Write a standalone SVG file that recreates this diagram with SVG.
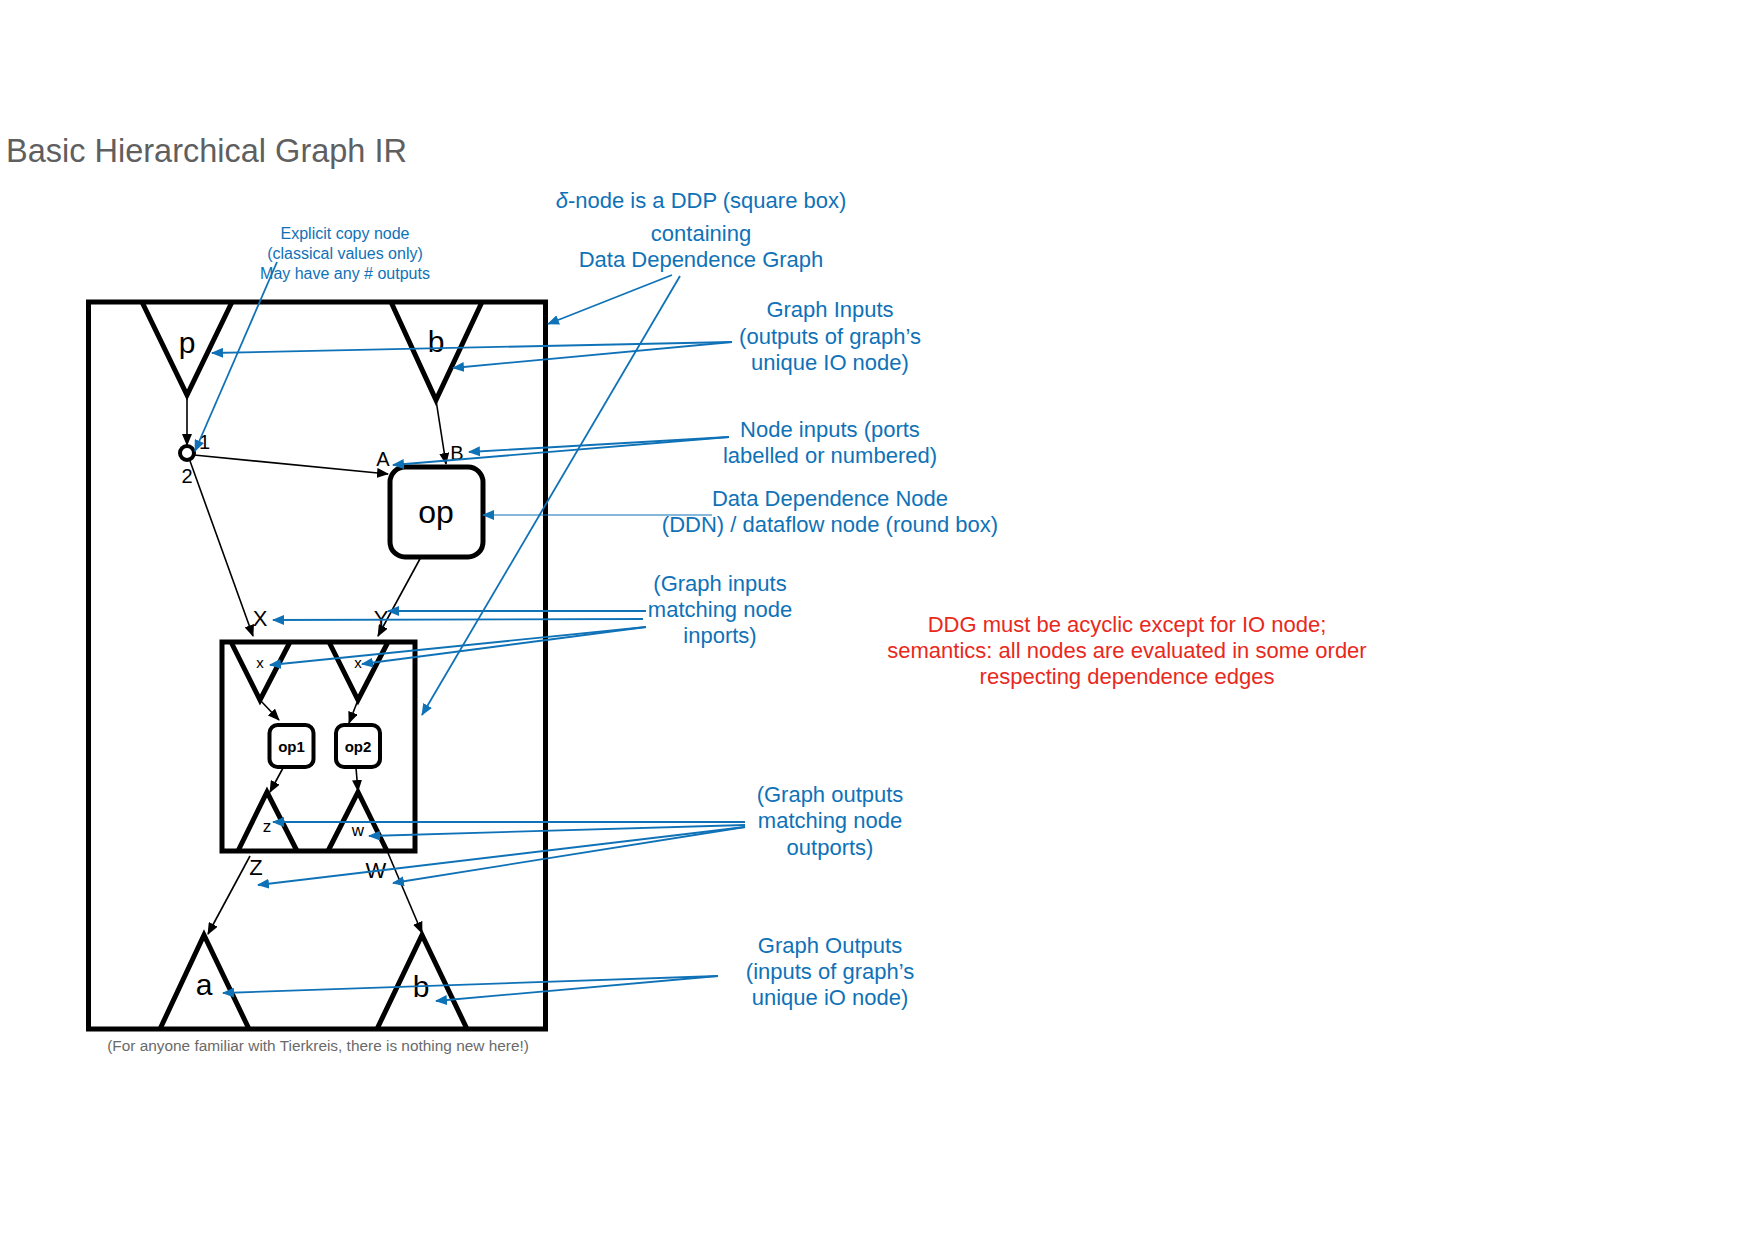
<svg xmlns="http://www.w3.org/2000/svg" width="1754" height="1241" viewBox="0 0 1754 1241">
<style>
text{font-family:"Liberation Sans",Arial,Helvetica,sans-serif}
.t{fill:none;stroke:#000;stroke-width:5;stroke-linejoin:miter}
.bx{fill:#fff;stroke:#000;stroke-width:5}
.e{stroke:#000;stroke-width:1.6;fill:none;marker-end:url(#ak)}
.a{stroke:#0f72b7;stroke-width:1.8;fill:none;marker-end:url(#ab)}
.bl{fill:#0f72b7;font-size:22px;text-anchor:middle}
.bs{fill:#0f72b7;font-size:16px;text-anchor:middle}
.red{fill:#e8291c;font-size:22px;text-anchor:middle}
.c{text-anchor:middle}
</style>
<defs>
<marker id="ak" markerUnits="userSpaceOnUse" markerWidth="12" markerHeight="10" refX="11" refY="5" orient="auto"><path d="M0,0 L12,5 L0,10 z" fill="#000"/></marker>
<marker id="ab" markerUnits="userSpaceOnUse" markerWidth="12" markerHeight="10" refX="11" refY="5" orient="auto"><path d="M0,0 L12,5 L0,10 z" fill="#0f72b7"/></marker>
</defs>
<rect width="1754" height="1241" fill="#fff"/>
<text x="6" y="162" font-size="32.5" fill="#5f5f5f">Basic Hierarchical Graph IR</text>

<g id="ddp-outer"><rect x="88.5" y="302" width="457" height="727" fill="none" stroke="#000" stroke-width="5"/></g>

<g id="in-p"><path class="t" d="M142,302 L187,395 L232,302"/><text class="c" x="187" y="353" font-size="30">p</text></g>
<g id="in-b"><path class="t" d="M391,302 L436,400 L482,302"/><text class="c" x="436" y="352" font-size="30">b</text></g>
<g id="copy"><circle cx="187" cy="453" r="7" fill="#fff" stroke="#000" stroke-width="4"/><text x="199" y="449" font-size="20">1</text><text class="c" x="187" y="483" font-size="20">2</text></g>
<g id="op"><rect class="bx" x="390" y="467" width="93" height="90" rx="15"/><text class="c" x="436" y="523" font-size="32">op</text><text class="c" x="383" y="466" font-size="20">A</text><text class="c" x="457" y="460" font-size="20">B</text></g>

<g id="ddp-inner"><rect x="222" y="642" width="193" height="209" fill="none" stroke="#000" stroke-width="5"/><text class="c" x="260" y="626" font-size="22">X</text><text class="c" x="381" y="626" font-size="22">Y</text></g>
<g id="in-x"><path class="t" d="M231,642 L260,700 L290,642"/><text class="c" x="260" y="668" font-size="15">x</text></g>
<g id="in-y"><path class="t" d="M329,642 L358,700 L388,642"/><text class="c" x="358" y="668" font-size="15">x</text></g>
<g id="op1"><rect x="269.5" y="725" width="44" height="42" rx="8" fill="#fff" stroke="#000" stroke-width="4"/><text class="c" x="291.5" y="752" font-size="15" font-weight="bold">op1</text></g>
<g id="op2"><rect x="336" y="725" width="44" height="42" rx="8" fill="#fff" stroke="#000" stroke-width="4"/><text class="c" x="358" y="752" font-size="15" font-weight="bold">op2</text></g>
<g id="out-z"><path class="t" d="M238,851 L267,792 L297,851"/><text class="c" x="267" y="832" font-size="17">z</text></g>
<g id="out-w"><path class="t" d="M328,851 L358,792 L387,851"/><text class="c" x="358" y="836" font-size="17">w</text></g>
<g id="lblZW"><text class="c" x="256" y="875" font-size="22">Z</text><text class="c" x="376" y="878" font-size="22">W</text></g>

<g id="out-a"><path class="t" d="M160,1029 L204,935 L249,1029"/><text class="c" x="204" y="995" font-size="30">a</text></g>
<g id="out-b"><path class="t" d="M377,1029 L422,935 L467,1029"/><text class="c" x="421" y="997" font-size="30">b</text></g>

<text class="c" x="318" y="1051" font-size="15.4" fill="#6a6a6a">(For anyone familiar with Tierkreis, there is nothing new here!)</text>

<g id="connectors">
<line class="e" x1="187" y1="395" x2="187" y2="445"/>
<line class="e" x1="194" y1="455" x2="388" y2="474"/>
<line class="e" x1="436" y1="400" x2="446" y2="464"/>
<line class="e" x1="190" y1="461" x2="253" y2="636"/>
<line class="e" x1="421" y1="557" x2="378" y2="636"/>
<line class="e" x1="260" y1="700" x2="279" y2="720"/>
<line class="e" x1="358" y1="700" x2="349" y2="723"/>
<line class="e" x1="283" y1="768" x2="270" y2="792"/>
<line class="e" x1="356" y1="768" x2="358" y2="791"/>
<line class="e" x1="250" y1="856" x2="208" y2="934"/>
<line class="e" x1="388" y1="853" x2="422" y2="933"/>

<line class="a" x1="277" y1="262" x2="195" y2="451"/>
<line class="a" x1="672" y1="275" x2="548" y2="324"/>
<line class="a" x1="680" y1="276" x2="422" y2="715"/>
<line class="a" x1="732" y1="342" x2="212" y2="353"/>
<line class="a" x1="732" y1="342" x2="453" y2="368"/>
<line class="a" x1="729" y1="437" x2="469" y2="452"/>
<line class="a" x1="729" y1="437" x2="393" y2="465"/>
<line class="a" x1="712" y1="515" x2="483" y2="515" style="stroke-width:1.2"/>
<line class="a" x1="646" y1="611" x2="388" y2="611"/>
<line class="a" x1="643" y1="619" x2="273" y2="620"/>
<line class="a" x1="646" y1="627" x2="270" y2="665"/>
<line class="a" x1="646" y1="627" x2="362" y2="664"/>
<line class="a" x1="745" y1="822" x2="273" y2="822"/>
<line class="a" x1="745" y1="825" x2="369" y2="836"/>
<line class="a" x1="745" y1="827" x2="258" y2="885"/>
<line class="a" x1="745" y1="827" x2="393" y2="883"/>
<line class="a" x1="718" y1="976" x2="223" y2="993"/>
<line class="a" x1="718" y1="976" x2="436" y2="1001"/>
</g>

<g id="notes">
<text class="bs" x="345" y="239">Explicit copy node</text>
<text class="bs" x="345" y="259">(classical values only)</text>
<text class="bs" x="345" y="279">May have any # outputs</text>
<text class="bl" x="701" y="208"><tspan font-style="italic">δ</tspan>-node is a DDP (square box)</text>
<text class="bl" x="701" y="241">containing</text>
<text class="bl" x="701" y="267">Data Dependence Graph</text>
<text class="bl" x="830" y="317">Graph Inputs</text>
<text class="bl" x="830" y="344">(outputs of graph’s</text>
<text class="bl" x="830" y="370">unique IO node)</text>
<text class="bl" x="830" y="437">Node inputs (ports</text>
<text class="bl" x="830" y="463">labelled or numbered)</text>
<text class="bl" x="830" y="506">Data Dependence Node</text>
<text class="bl" x="830" y="532">(DDN) / dataflow node (round box)</text>
<text class="bl" x="720" y="591">(Graph inputs</text>
<text class="bl" x="720" y="617">matching node</text>
<text class="bl" x="720" y="643">inports)</text>
<text class="bl" x="830" y="802">(Graph outputs</text>
<text class="bl" x="830" y="828">matching node</text>
<text class="bl" x="830" y="855">outports)</text>
<text class="bl" x="830" y="953">Graph Outputs</text>
<text class="bl" x="830" y="979">(inputs of graph’s</text>
<text class="bl" x="830" y="1005">unique iO node)</text>
<text class="red" x="1127" y="632">DDG must be acyclic except for IO node;</text>
<text class="red" x="1127" y="658">semantics: all nodes are evaluated in some order</text>
<text class="red" x="1127" y="684">respecting dependence edges</text>
</g>
</svg>
